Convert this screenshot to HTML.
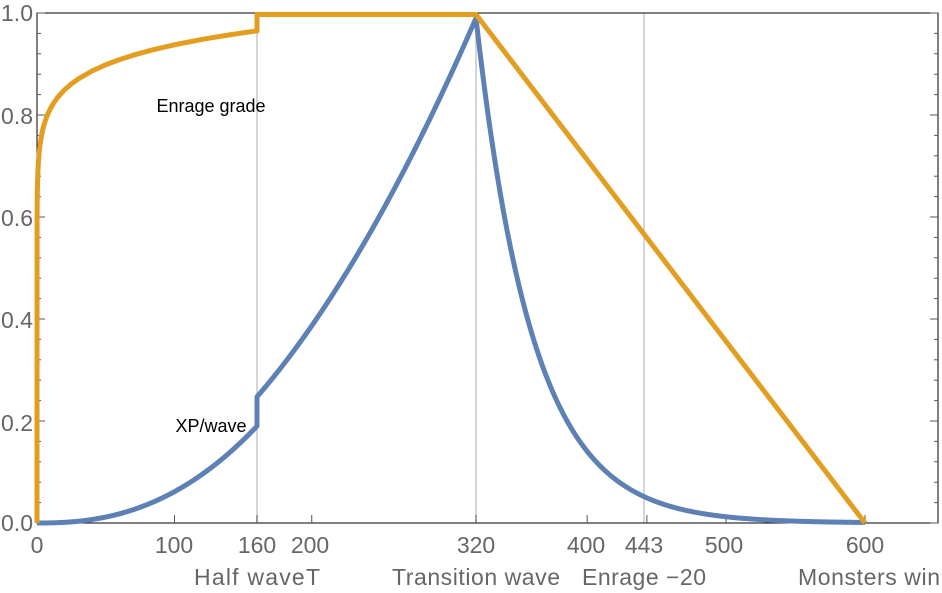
<!DOCTYPE html>
<html><head><meta charset="utf-8"><style>
html,body{margin:0;padding:0;background:#fff}
svg{display:block}
text{font-family:"Liberation Sans",sans-serif}
</style></head><body>
<svg id="s" width="942" height="593" viewBox="0 0 942 593" xmlns="http://www.w3.org/2000/svg">
<g stroke="#c8c8c8" stroke-width="1.5">
<line x1="257" y1="13" x2="257" y2="523"/>
<line x1="476" y1="13" x2="476" y2="523"/>
<line x1="644" y1="13" x2="644" y2="523"/>
</g>
<rect x="37" y="13" width="901" height="510" fill="none" stroke="#000" stroke-width="1"/>
<g id="ticks" stroke="#555" stroke-width="1"></g>
<g font-size="23" fill="#666" text-anchor="end">
<text x="33" y="531">0.0</text><text x="33" y="431">0.2</text><text x="33" y="328">0.4</text>
<text x="33" y="226">0.6</text><text x="33" y="124">0.8</text><text x="33" y="21">1.0</text>
</g>
<g font-size="23" fill="#666" text-anchor="middle">
<text x="37" y="553">0</text><text x="174" y="553">100</text><text x="257" y="553">160</text>
<text x="310" y="553">200</text><text x="476" y="553">320</text><text x="586" y="553">400</text>
<text x="644" y="553">443</text><text x="724" y="553">500</text><text x="865" y="553">600</text>
<text x="257" y="585" textLength="126">Half waveT</text><text x="476" y="585" textLength="168">Transition wave</text>
<text x="644" y="585" textLength="124">Enrage −20</text><text x="869" y="585" textLength="142">Monsters win</text>
</g>
<path id="bl" fill="none" stroke="#5E81B5" stroke-width="5" stroke-linejoin="round"/>
<path id="or" fill="none" stroke="#E39E21" stroke-width="5" stroke-linejoin="round"/>
<text x="211" y="112" font-size="18" text-anchor="middle" fill="#000">Enrage grade</text>
<text x="211" y="432" font-size="18" text-anchor="middle" fill="#000">XP/wave</text>
</svg>
<script>
function X(x){return x<=160?37+x*(257-37)/160:(x<=320?257+(x-160)*(476-257)/160:476+(x-320)*(865-476)/280);}
function Y(v){return 523-v*510;}
var b=[],o=[],x;
for(x=0;x<=160;x+=1)b.push([x,0.19*Math.pow(x/160,2.4)]);
for(x=160;x<=320;x+=1)b.push([x,Math.pow(x/320,2)*0.99]);
for(x=320;x<=600;x+=1)b.push([x,0.99*Math.exp(-0.0244*(x-320))]);
o.push([0,0]);
var xs=[0.05,0.1,0.2,0.4,0.7,1,1.5,2,3,4,5,7,9,12,15,20,25,30,40,50,60,70,80,90,100,110,120,130,140,150,160];
xs.forEach(function(x){o.push([x,0.965*Math.pow(x/160,0.0614)]);});
o.push([160,0.997]);o.push([320,0.997]);o.push([600,0]);
function P(a){return a.map(function(p,i){return (i?'L':'M')+X(p[0]).toFixed(2)+','+Y(p[1]).toFixed(2);}).join('');}
document.getElementById('bl').setAttribute('d',P(b));
document.getElementById('or').setAttribute('d',P(o));
var t='',i;
for(i=0;i<=25;i++){var y=523-i*20.4,l=(i%5==0)?8:4;t+='<line x1="37" y1="'+y+'" x2="'+(37+l)+'" y2="'+y+'"/><line x1="938" y1="'+y+'" x2="'+(938-l)+'" y2="'+y+'"/>';}
[0,100,160,200,320,400,443,500,600].forEach(function(v){var xx=X(v);t+='<line x1="'+xx+'" y1="523" x2="'+xx+'" y2="515"/>';});
document.getElementById('ticks').innerHTML=t;
</script>
</body></html>
